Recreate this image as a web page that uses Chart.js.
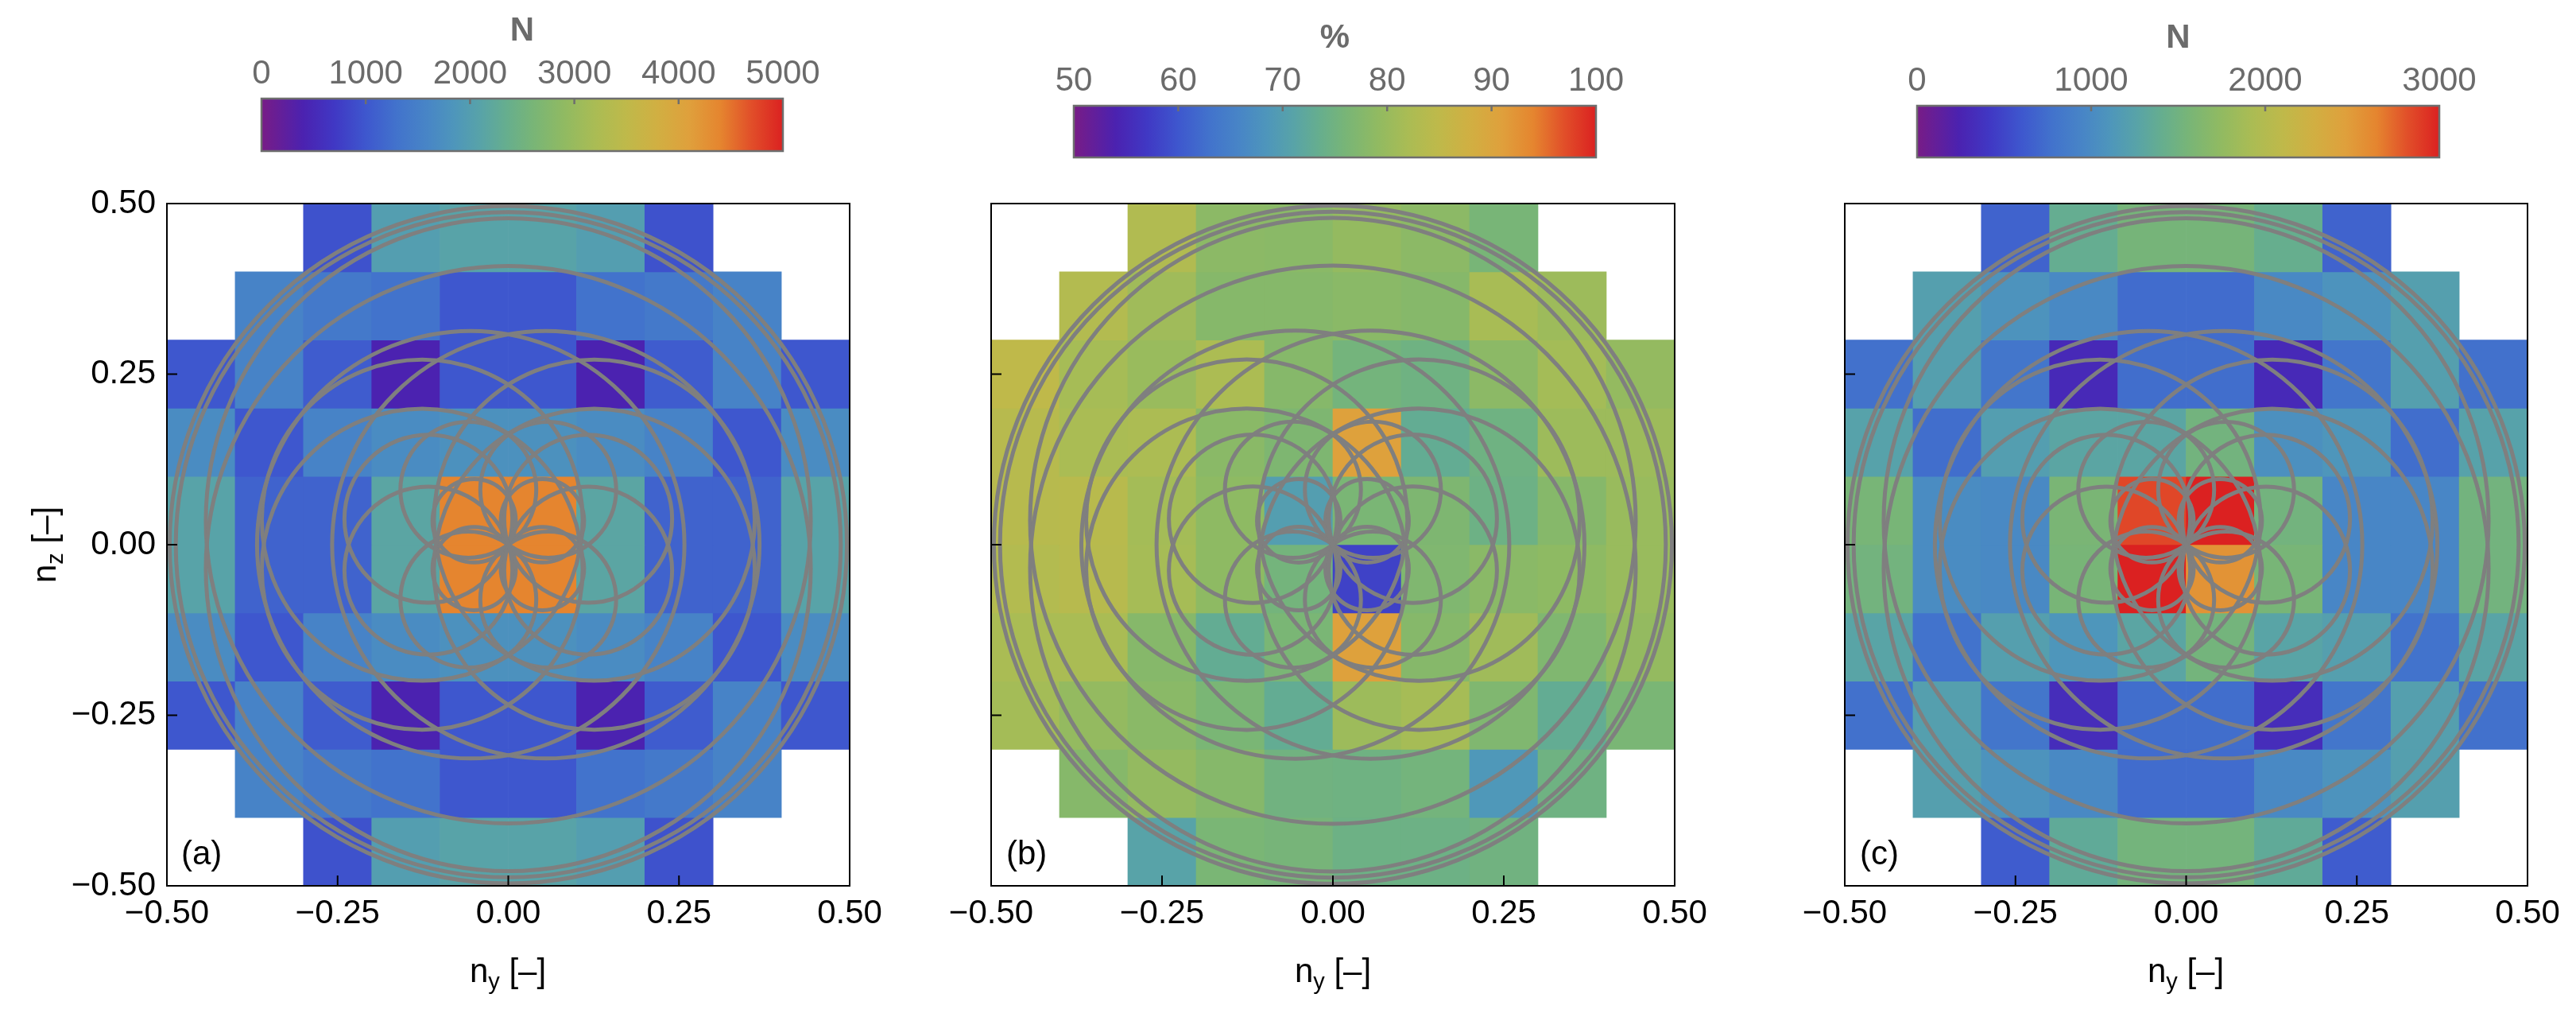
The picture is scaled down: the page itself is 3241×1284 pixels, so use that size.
<!DOCTYPE html>
<html>
<head>
<meta charset="utf-8">
<title>orientation histograms</title>
<script src="https://cdn.jsdelivr.net/npm/chart.js@4.4.1/dist/chart.umd.min.js"></script>
<style>
  html, body { margin: 0; padding: 0; background: #fff; }
  body { position: relative; width: 3241px; height: 1284px; overflow: hidden;
         font-family: "Liberation Sans", Arial, sans-serif; }
  canvas { position: absolute; }
  .txt { position: absolute; font-size: 42px; line-height: 42px; white-space: nowrap; color: #000; }
  .txt sub { font-size: 29px; line-height: 0; vertical-align: -9px; }
</style>
</head>
<body>
<canvas id="barA" width="856" height="210" style="left:229px;top:0"></canvas>
<canvas id="barB" width="857" height="218" style="left:1251px;top:0"></canvas>
<canvas id="barC" width="857" height="218" style="left:2312px;top:0"></canvas>
<canvas id="panelA" width="1130" height="1068" style="left:0;top:216px"></canvas>
<canvas id="panelB" width="1131" height="1068" style="left:1037px;top:216px"></canvas>
<canvas id="panelC" width="1130" height="1068" style="left:2111px;top:216px"></canvas>

<div class="txt" style="left:56px;top:685px;transform:translate(-50%,-50%) rotate(-90deg)">n<sub>z</sub> [–]</div>
<div class="txt" style="left:639px;top:1200px;transform:translateX(-50%)">n<sub>y</sub> [–]</div>
<div class="txt" style="left:1677px;top:1200px;transform:translateX(-50%)">n<sub>y</sub> [–]</div>
<div class="txt" style="left:2750px;top:1200px;transform:translateX(-50%)">n<sub>y</sub> [–]</div>
<div class="txt" style="left:228px;top:1052px">(a)</div>
<div class="txt" style="left:1266px;top:1052px">(b)</div>
<div class="txt" style="left:2340px;top:1052px">(c)</div>

<script>
// bins of n_y (columns) and n_z (rows), 0.1 wide
const nyCentres = ['-0.45', '-0.35', '-0.25', '-0.15', '-0.05', '0.05', '0.15', '0.25', '0.35', '0.45'];
const binEdges = [-0.5, -0.4, -0.3, -0.2, -0.1, 0, 0.1, 0.2, 0.3, 0.4, 0.5];
const axisTicks = [-0.5, -0.25, 0, 0.25, 0.5];

// colour bar ticks
const ticksA = [0, 1000, 2000, 3000, 4000, 5000];
const ticksB = [50, 60, 70, 80, 90, 100];
const ticksC = [0, 1000, 2000, 3000];

// rows listed top (n_z = 0.5) to bottom (n_z = -0.5), null = empty bin
const countsA = [
  [null, null, 950, 2000, 2100, 2100, 2000, 950, null, null],
  [null, 1550, 1400, 1300, 1000, 1000, 1300, 1400, 1550, null],
  [1000, 1550, 1050, 400, 1000, 1000, 400, 1050, 1550, 1000],
  [1700, 1000, 1550, 1700, 1775, 1775, 1700, 1550, 1000, 1700],
  [2100, 1125, 1125, 2150, 4400, 4400, 2150, 1125, 1125, 2100],
  [2100, 1125, 1125, 2150, 4400, 4400, 2150, 1125, 1125, 2100],
  [1700, 1000, 1550, 1700, 1775, 1775, 1700, 1550, 1000, 1700],
  [1000, 1550, 1050, 400, 1000, 1000, 400, 1050, 1550, 1000],
  [null, 1550, 1400, 1300, 1000, 1000, 1300, 1400, 1550, null],
  [null, null, 950, 2000, 2100, 2100, 2000, 950, null, null]
];

const percentB = [
  [null, null, 83, 78.5, 78.3, 79.5, 78.5, 76, null, null],
  [null, 83.3, 80.8, 77.8, 77.8, 78.3, 77.8, 81.8, 80.5, null],
  [85, 81.5, 80, 82.3, 77.8, 75.5, 74.8, 78.5, 81.3, 79.5],
  [83.8, 82, 82.3, 78.3, 76.8, 90.8, 73, 74.8, 80.5, 80.5],
  [83.8, 84, 81.3, 78.8, 70, 76.3, 76.8, 74.5, 77.8, 80],
  [83.3, 83.8, 81.5, 78.8, 75.5, 58, 77, 78.3, 78.8, 80],
  [82, 82, 77.8, 73, 76.3, 90.8, 77.8, 80.8, 77, 79.5],
  [81.3, 79.5, 78.3, 76.3, 73, 80.5, 81.5, 77, 73, 76.3],
  [null, 77.8, 79.5, 77.8, 75, 74.8, 75.5, 68.8, 74.8, null],
  [null, null, 71, 76.3, 75.8, 74.5, 74.5, 75, null, null]
];

const countsC = [
  [null, null, 675, 1395, 1545, 1545, 1410, 675, null, null],
  [null, 1215, 1080, 990, 735, 735, 990, 1080, 1215, null],
  [765, 1215, 810, 300, 750, 750, 300, 810, 1215, 765],
  [1245, 750, 1200, 1290, 1290, 1515, 1050, 1110, 750, 1245],
  [1560, 1020, 990, 1575, 2850, 3000, 1515, 960, 960, 1515],
  [1515, 1020, 990, 1560, 3000, 2550, 1560, 960, 960, 1515],
  [1270, 780, 1215, 1110, 1290, 1530, 1270, 1215, 780, 1270],
  [765, 1215, 810, 330, 750, 750, 330, 810, 1215, 765],
  [null, 1215, 1080, 990, 735, 735, 990, 1080, 1215, null],
  [null, null, 630, 1350, 1530, 1530, 1350, 630, null, null]
];

// loops of the orientation path, read as circles: [centre n_y, centre n_z, radius]
const loopCircles = [
  [0.05, 0.035, 0.061], [-0.05, 0.035, 0.061], [0.05, -0.035, 0.061], [-0.05, -0.035, 0.061],
  [0.0585, 0.0805, 0.0995], [-0.0585, 0.0805, 0.0995], [0.0585, -0.0805, 0.0995], [-0.0585, -0.0805, 0.0995],
  [0.117, 0.038, 0.123], [-0.117, 0.038, 0.123], [0.117, -0.038, 0.123], [-0.117, -0.038, 0.123],
  [0.126, 0.036, 0.235], [-0.126, 0.036, 0.235], [0.126, -0.036, 0.235], [-0.126, -0.036, 0.235],
  [0.055, 0, 0.313], [-0.055, 0, 0.313],
  [0, 0.035, 0.443], [0, -0.035, 0.443],
  [0, 0, 0.496], [0, 0, 0.487]
];

Chart.defaults.font.family = '"Liberation Sans", Arial, sans-serif';

const rainbow = [
  [0, '#781c86'], [0.08, '#4b22b0'], [0.14, '#4038c4'], [0.2, '#3e57ce'], [0.26, '#4273cc'],
  [0.32, '#4886c6'], [0.37, '#4e96bb'], [0.42, '#58a3a8'], [0.47, '#66ae8e'], [0.52, '#78b577'],
  [0.58, '#90ba62'], [0.64, '#aabc54'], [0.7, '#bfb94a'], [0.76, '#d1af42'], [0.82, '#dfa03c'],
  [0.88, '#e5852f'], [0.94, '#e14e29'], [1, '#db2121']
];

function hexRgb(h) {
  return [1, 3, 5].map(i => parseInt(h.slice(i, i + 2), 16));
}

function colourAt(t) {
  t = Math.min(1, Math.max(0, t));
  for (let i = 1; i < rainbow.length; i++) {
    if (t <= rainbow[i][0]) {
      const [t0, c0] = rainbow[i - 1];
      const [t1, c1] = rainbow[i];
      const f = (t - t0) / (t1 - t0);
      const a = hexRgb(c0), b = hexRgb(c1);
      return 'rgb(' + a.map((v, k) => Math.round(v + (b[k] - v) * f)).join(',') + ')';
    }
  }
  return rainbow[rainbow.length - 1][1];
}

const fmtAxis = v => (v < 0 ? '\u2212' : '') + Math.abs(v).toFixed(2);

// black box round the plot and the short inward ticks
const panelFrame = {
  id: 'panelFrame',
  afterDraw(chart) {
    const { ctx, chartArea: a } = chart;
    const xs = chart.scales.xl, ys = chart.scales.y;
    ctx.save();
    ctx.strokeStyle = '#000';
    ctx.lineWidth = 2;
    ctx.strokeRect(a.left, a.top, a.width, a.height);
    ctx.beginPath();
    axisTicks.slice(1, -1).forEach(v => {
      const px = xs.getPixelForValue(v);
      ctx.moveTo(px, a.bottom);
      ctx.lineTo(px, a.bottom - 13);
      const py = ys.getPixelForValue(v);
      ctx.moveTo(a.left, py);
      ctx.lineTo(a.left + 13, py);
    });
    ctx.stroke();
    ctx.restore();
  }
};

const barFrame = {
  id: 'barFrame',
  afterDraw(chart) {
    const { ctx, chartArea: a } = chart;
    const xs = chart.scales.x;
    ctx.save();
    ctx.strokeStyle = '#6e6e6e';
    ctx.lineWidth = 2.5;
    ctx.strokeRect(a.left, a.top, a.width, a.height);
    ctx.beginPath();
    xs.ticks.slice(1, -1).forEach(t => {
      const px = xs.getPixelForValue(t.value);
      ctx.moveTo(px, a.top);
      ctx.lineTo(px, a.top + 7);
    });
    ctx.stroke();
    ctx.restore();
  }
};

function makePanel(id, grid, lo, hi, showY) {
  const loopRadius = c => {
    if (!c.raw) return 0;
    const s = c.chart.scales.xl;
    return Math.abs(s.getPixelForValue(c.raw.R) - s.getPixelForValue(0));
  };

  const cells = grid.map((row, r) => ({
    type: 'bar',
    xAxisID: 'x',
    yAxisID: 'y',
    order: 1,
    data: row.map(v => v === null ? null : [binEdges[9 - r], binEdges[10 - r]]),
    backgroundColor: row.map(v => v === null ? 'rgba(0,0,0,0)' : colourAt((v - lo) / (hi - lo))),
    borderWidth: 0,
    grouped: false,
    barPercentage: 1,
    categoryPercentage: 1
  }));

  return new Chart(document.getElementById(id), {
    type: 'bar',
    data: {
      labels: nyCentres,
      datasets: [{
        type: 'scatter',
        xAxisID: 'xl',
        yAxisID: 'y',
        order: 0,
        data: loopCircles.map(([x, y, R]) => ({ x, y, R })),
        pointRadius: loopRadius,
        pointHoverRadius: loopRadius,
        pointBackgroundColor: 'rgba(0,0,0,0)',
        pointBorderColor: '#7f7f7f',
        pointBorderWidth: 5,
        pointHoverBorderWidth: 5
      }, ...cells]
    },
    options: {
      responsive: false,
      animation: false,
      events: [],
      layout: { padding: { top: 40, right: 61, left: 0, bottom: 0 } },
      plugins: { legend: { display: false }, tooltip: { enabled: false } },
      scales: {
        x: { type: 'category', display: false, offset: true },
        xl: {
          type: 'linear', position: 'bottom', min: -0.5, max: 0.5, offset: false,
          afterBuildTicks: s => { s.ticks = axisTicks.map(value => ({ value })); },
          ticks: { callback: fmtAxis, color: '#000', font: { size: 42 }, padding: 10, maxRotation: 0, autoSkip: false },
          grid: { display: false, drawTicks: false, offset: false },
          border: { display: false },
          afterFit: s => { s.height = 170; }
        },
        y: {
          type: 'linear', min: -0.5, max: 0.5, stacked: false, offset: false,
          afterBuildTicks: s => { s.ticks = axisTicks.map(value => ({ value })); },
          ticks: { display: showY, callback: fmtAxis, color: '#000', font: { size: 42 }, padding: 14, autoSkip: false },
          grid: { display: false, drawTicks: false },
          border: { display: false },
          afterFit: s => { s.width = 210; }
        }
      }
    },
    plugins: [panelFrame]
  });
}

function makeColourBar(id, ticks, title, topEdge, titlePad) {
  const lo = ticks[0], hi = ticks[ticks.length - 1];
  return new Chart(document.getElementById(id), {
    type: 'bar',
    data: {
      labels: [''],
      datasets: [{
        data: [[lo, hi]],
        backgroundColor: c => {
          const a = c.chart.chartArea;
          if (!a) return 'rgba(0,0,0,0)';
          const g = c.chart.ctx.createLinearGradient(a.left, 0, a.right, 0);
          rainbow.forEach(([t, col]) => g.addColorStop(t, col));
          return g;
        },
        borderWidth: 0,
        barPercentage: 1,
        categoryPercentage: 1
      }]
    },
    options: {
      indexAxis: 'y',
      responsive: false,
      animation: false,
      events: [],
      layout: { padding: { left: 100, right: 100, top: 0, bottom: 20 } },
      plugins: { legend: { display: false }, tooltip: { enabled: false } },
      scales: {
        x: {
          type: 'linear', position: 'top', min: lo, max: hi, offset: false,
          afterBuildTicks: s => { s.ticks = ticks.map(value => ({ value })); },
          ticks: { callback: v => String(v), color: '#6b6b6b', font: { size: 42 }, padding: 5, maxRotation: 0, autoSkip: false },
          grid: { display: false, drawTicks: false },
          border: { display: false },
          title: { display: true, text: title, color: '#6b6b6b', font: { size: 42, weight: 'bold' }, padding: { top: titlePad, bottom: 0 } },
          afterFit: s => { s.height = topEdge; }
        },
        y: { type: 'category', display: false }
      }
    },
    plugins: [barFrame]
  });
}

makeColourBar('barA', ticksA, 'N', 124, 14);
makeColourBar('barB', ticksB, '%', 133, 23);
makeColourBar('barC', ticksC, 'N', 133, 23);

makePanel('panelA', countsA, ticksA[0], ticksA[ticksA.length - 1], true);
makePanel('panelB', percentB, ticksB[0], ticksB[ticksB.length - 1], false);
makePanel('panelC', countsC, ticksC[0], ticksC[ticksC.length - 1], false);
</script>
</body>
</html>
